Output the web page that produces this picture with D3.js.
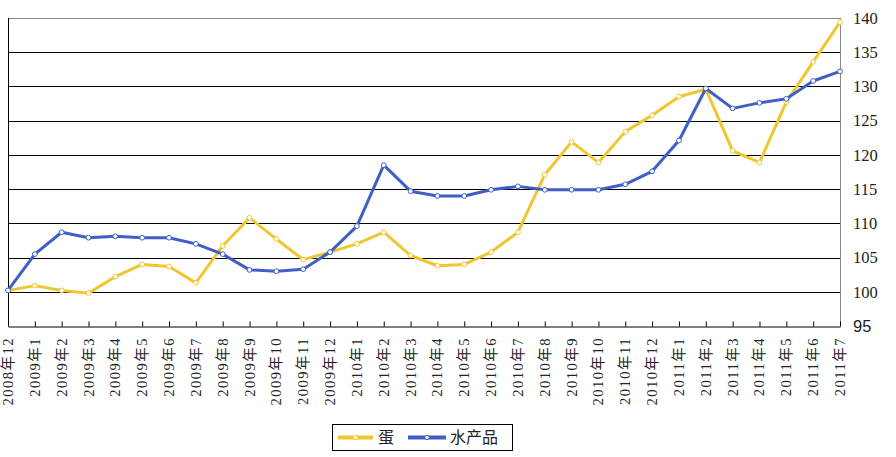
<!DOCTYPE html>
<html><head><meta charset="utf-8">
<script src="https://cdn.jsdelivr.net/npm/d3@7"></script>
<style>
body{margin:0;background:#fff;}
svg{display:block;}
</style></head>
<body>
<svg id="c" width="896" height="457"></svg>
<script>
const categories = ["2008年12","2009年1","2009年2","2009年3","2009年4","2009年5","2009年6","2009年7","2009年8","2009年9","2009年10","2009年11","2009年12","2010年1","2010年2","2010年3","2010年4","2010年5","2010年6","2010年7","2010年8","2010年9","2010年10","2010年11","2010年12","2011年1","2011年2","2011年3","2011年4","2011年5","2011年6","2011年7"];
const eggValues = [100.2,100.9,100.2,99.8,102.2,104.0,103.7,101.3,106.7,110.8,107.7,104.7,105.8,107.0,108.7,105.3,103.8,104.0,105.8,108.7,117.1,121.9,118.9,123.4,125.8,128.5,129.6,120.6,118.9,127.7,133.6,139.4];
const aquaValues = [100.2,105.5,108.7,107.9,108.1,107.9,107.9,107.0,105.5,103.2,103.0,103.3,105.8,109.6,118.5,114.7,114.0,114.0,114.9,115.4,114.9,114.9,114.9,115.7,117.6,122.1,129.7,126.8,127.6,128.2,130.8,132.2];
const yTicks = [95,100,105,110,115,120,125,130,135,140];
const seriesNames = ["蛋","水产品"];
const seriesColors = ["#F0C630","#3F5FC6"];

const svg = d3.select("#c");
const L = 8, R = 840, T = 18, B = 326;
const x = d3.scalePoint().domain(categories).range([L, R]);
const y = d3.scaleLinear().domain([95, 140]).range([B, T]);

// grid
svg.append("g").selectAll("line").data(yTicks.filter(d => d > 95 && d < 140)).join("line")
  .attr("x1", L).attr("x2", R).attr("y1", d => Math.round(y(d)) + 0.5).attr("y2", d => Math.round(y(d)) + 0.5)
  .attr("stroke", "#000").attr("stroke-width", 1);
// top & right border gray
svg.append("line").attr("x1", L).attr("x2", R).attr("y1", T + 0.5).attr("y2", T + 0.5).attr("stroke", "#888");
svg.append("line").attr("x1", R + 0.5).attr("x2", R + 0.5).attr("y1", T).attr("y2", B).attr("stroke", "#888");
// left border
svg.append("line").attr("x1", L + 0.5).attr("x2", L + 0.5).attr("y1", T).attr("y2", B).attr("stroke", "#000");

// x axis
const xAxis = d3.axisBottom(x).tickSizeInner(-5).tickSizeOuter(0).tickFormat("");
const gx = svg.append("g").attr("transform", `translate(0,${B + 0.5})`).call(xAxis);
gx.select(".domain").attr("stroke", "#000");
gx.selectAll(".tick line").attr("stroke", "#000");
// x labels
svg.append("g").selectAll("text").data(categories).join("text")
  .attr("transform", d => `translate(${x(d) + 5},337) rotate(-90)`)
  .attr("text-anchor", "end")
  .attr("font-family", "'Liberation Serif','Noto Sans CJK SC',serif")
  .attr("font-size", 14.5)
  .attr("letter-spacing", 1.5)
  .attr("fill", "#222")
  .text(d => d);

// y labels on right
const yAxis = d3.axisRight(y).tickValues(yTicks).tickSize(0).tickPadding(13);
const gy = svg.append("g").attr("transform", `translate(${R},0)`).call(yAxis);
gy.select(".domain").remove();
gy.selectAll("text")
  .attr("font-family", d => d === 95 ? "'Liberation Sans',Arial,sans-serif" : "'Liberation Serif',serif")
  .attr("font-size", 16.5).attr("fill", "#222");

// lines
const line = d3.line().x((d, i) => x(categories[i])).y(d => y(d));
const series = [eggValues, aquaValues];
series.forEach((vals, si) => {
  svg.append("path").datum(vals).attr("d", line)
    .attr("fill", "none").attr("stroke", seriesColors[si]).attr("stroke-width", 3)
    .attr("stroke-linejoin", "round");
  svg.append("g").selectAll("circle").data(vals).join("circle")
    .attr("cx", (d, i) => x(categories[i])).attr("cy", d => y(d)).attr("r", 2.4)
    .attr("fill", "#fff").attr("stroke", seriesColors[si]).attr("stroke-width", 1);
});

// legend
const lg = svg.append("g");
lg.append("rect").attr("x", 332.5).attr("y", 424.5).attr("width", 180).attr("height", 26)
  .attr("fill", "#fff").attr("stroke", "#000");
const items = [{x1: 338, x2: 373, tx: 378}, {x1: 408, x2: 446, tx: 450}];
items.forEach((it, i) => {
  lg.append("line").attr("x1", it.x1).attr("x2", it.x2).attr("y1", 437.5).attr("y2", 437.5)
    .attr("stroke", seriesColors[i]).attr("stroke-width", 4);
  lg.append("circle").attr("cx", (it.x1 + it.x2) / 2).attr("cy", 437.5).attr("r", 2.2)
    .attr("fill", "#fff").attr("stroke", seriesColors[i]).attr("stroke-width", 1);
  lg.append("text").attr("x", it.tx).attr("y", 443).attr("font-size", 16)
    .attr("font-family", "'Noto Sans CJK SC',sans-serif").attr("fill", "#222").text(seriesNames[i]);
});
</script>
</body></html>
